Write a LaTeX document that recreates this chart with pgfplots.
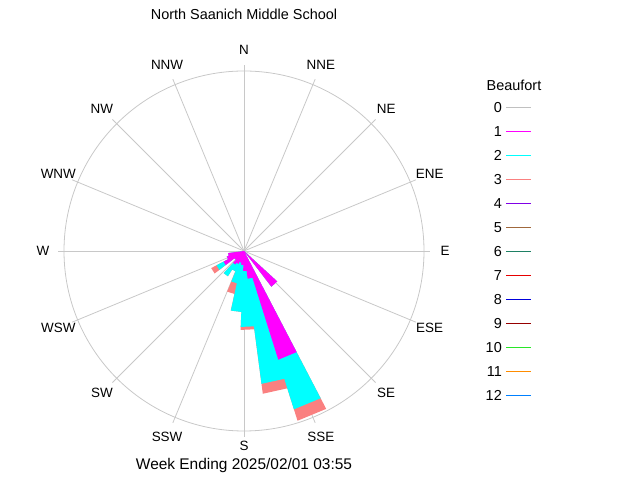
\documentclass[border=0pt]{standalone}
\usepackage{fontspec}
\setmainfont{Liberation Sans}
\usepackage{pgfplots}
\pgfplotsset{compat=1.18}
\definecolor{gridgray}{RGB}{200,200,200}
\definecolor{bf0}{RGB}{192,192,192}
\definecolor{bf1}{RGB}{255,0,255}
\definecolor{bf2}{RGB}{0,255,255}
\definecolor{bf3}{RGB}{250,128,128}
\definecolor{bf4}{RGB}{128,0,230}
\definecolor{bf5}{RGB}{160,104,60}
\definecolor{bf6}{RGB}{30,128,100}
\definecolor{bf7}{RGB}{230,0,0}
\definecolor{bf8}{RGB}{0,0,220}
\definecolor{bf9}{RGB}{150,0,0}
\definecolor{bf10}{RGB}{40,230,40}
\definecolor{bf11}{RGB}{255,140,0}
\definecolor{bf12}{RGB}{0,128,255}
\newcommand{\lbl}{\fontsize{13.5}{16}\selectfont}

\begin{document}
\begin{tikzpicture}
\begin{axis}[
    width=640bp, height=480bp, scale only axis,
    xmin=-244, xmax=396, ymin=-229, ymax=251,
    hide axis, clip=false,
]
\path (axis cs:-244,-229) rectangle (axis cs:396,251);

% grid: outer ring and 16 spokes
\draw[gridgray, line width=0.8bp] (axis cs:0,0) circle[radius=180bp];
\pgfplotsinvokeforeach{0,22.5,...,337.5}{
    \draw[gridgray, line width=0.8bp] (axis cs:0,0) -- ++(#1:186bp);
}

% wedges, angle (deg, ccw from east) and radius; beaufort 3 / 2 / 1 stacked
\addplot[fill=bf3, draw=none, data cs=polar] coordinates {
    (-42.5,0) (-42.5,45) (-52.5,45) (-52.5,0)
    (-62.5,0) (-62.5,178) (-72.5,178) (-72.5,0)
    (-72.5,144) (-82.5,144) (-82.5,0)
    (-82.5,79) (-92.5,79) (-92.5,0)
    (-92.5,61) (-102.5,61) (-102.5,0)
    (-102.5,44) (-112.5,44) (-112.5,0)
    (-112.5,22) (-122.5,22) (-122.5,0)
    (-122.5,30) (-132.5,30) (-132.5,0)
    (-132.5,12) (-142.5,12) (-142.5,0)
    (-142.5,37) (-152.5,37) (-152.5,0)
    (-152.5,18) (-162.5,18) (-162.5,0)
    (-162.5,16) (-172.5,16) (-172.5,0)
};
\addplot[fill=bf2, draw=none, data cs=polar] coordinates {
    (-42.5,0) (-42.5,45) (-52.5,45) (-52.5,0)
    (-62.5,0) (-62.5,166) (-72.5,166) (-72.5,0)
    (-72.5,134) (-82.5,134) (-82.5,0)
    (-82.5,76) (-92.5,76) (-92.5,0)
    (-92.5,61) (-102.5,61) (-102.5,0)
    (-102.5,33) (-112.5,33) (-112.5,0)
    (-112.5,22) (-122.5,22) (-122.5,0)
    (-122.5,30) (-132.5,30) (-132.5,0)
    (-132.5,12) (-142.5,12) (-142.5,0)
    (-142.5,31) (-152.5,31) (-152.5,0)
    (-152.5,18) (-162.5,18) (-162.5,0)
    (-162.5,16) (-172.5,16) (-172.5,0)
};
\addplot[fill=bf1, draw=none, data cs=polar] coordinates {
    (-42.5,0) (-42.5,45) (-52.5,45) (-52.5,0)
    (-62.5,0) (-62.5,114) (-72.5,114) (-72.5,0)
    (-72.5,28) (-82.5,28) (-82.5,0)
    (-82.5,20) (-92.5,20) (-92.5,0)
    (-92.5,14) (-102.5,14) (-102.5,0)
    (-102.5,12) (-112.5,12) (-112.5,0)
    (-112.5,14) (-122.5,14) (-122.5,0)
    (-122.5,16) (-132.5,16) (-132.5,0)
    (-132.5,12) (-142.5,12) (-142.5,0)
    (-142.5,23) (-152.5,23) (-152.5,0)
    (-152.5,18) (-162.5,18) (-162.5,0)
    (-162.5,16) (-172.5,16) (-172.5,0)
};

% compass labels
\path (axis cs:0,0) ++(90:201bp) node[font=\lbl] {N};
\path (axis cs:0,0) ++(67.5:201bp) node[font=\lbl] {NNE};
\path (axis cs:0,0) ++(45:201bp) node[font=\lbl] {NE};
\path (axis cs:0,0) ++(22.5:201bp) node[font=\lbl] {ENE};
\path (axis cs:0,0) ++(0:201bp) node[font=\lbl] {E};
\path (axis cs:0,0) ++(-22.5:201bp) node[font=\lbl] {ESE};
\path (axis cs:0,0) ++(-45:201bp) node[font=\lbl] {SE};
\path (axis cs:0,0) ++(-67.5:201bp) node[font=\lbl] {SSE};
\path (axis cs:0,0) ++(-90:195bp) node[font=\lbl] {S};
\path (axis cs:0,0) ++(-112.5:201bp) node[font=\lbl] {SSW};
\path (axis cs:0,0) ++(-135:201bp) node[font=\lbl] {SW};
\path (axis cs:0,0) ++(-157.5:201bp) node[font=\lbl] {WSW};
\path (axis cs:0,0) ++(180:201bp) node[font=\lbl] {W};
\path (axis cs:0,0) ++(157.5:201bp) node[font=\lbl] {WNW};
\path (axis cs:0,0) ++(135:201bp) node[font=\lbl] {NW};
\path (axis cs:0,0) ++(112.5:201bp) node[font=\lbl] {NNW};

% titles
\node[font=\fontsize{14.5}{17}\selectfont] at (axis cs:0,237) {North Saanich Middle School};
\node[font=\fontsize{15.5}{18}\selectfont] at (axis cs:0,-215) {Week Ending 2025/02/01 03:55};

% legend
\node[font=\fontsize{14.5}{17}\selectfont] at (axis cs:270,166) {Beaufort};
\pgfplotsinvokeforeach{0,...,12}{
    \draw[bf#1, line width=0.8bp] (axis cs:262,{143.5-24*#1}) -- (axis cs:287,{143.5-24*#1});
    \node[anchor=east, inner sep=0pt, font=\fontsize{14.5}{17}\selectfont] at (axis cs:258,{143.5-24*#1}) {#1};
}
\end{axis}
\end{tikzpicture}
\end{document}
